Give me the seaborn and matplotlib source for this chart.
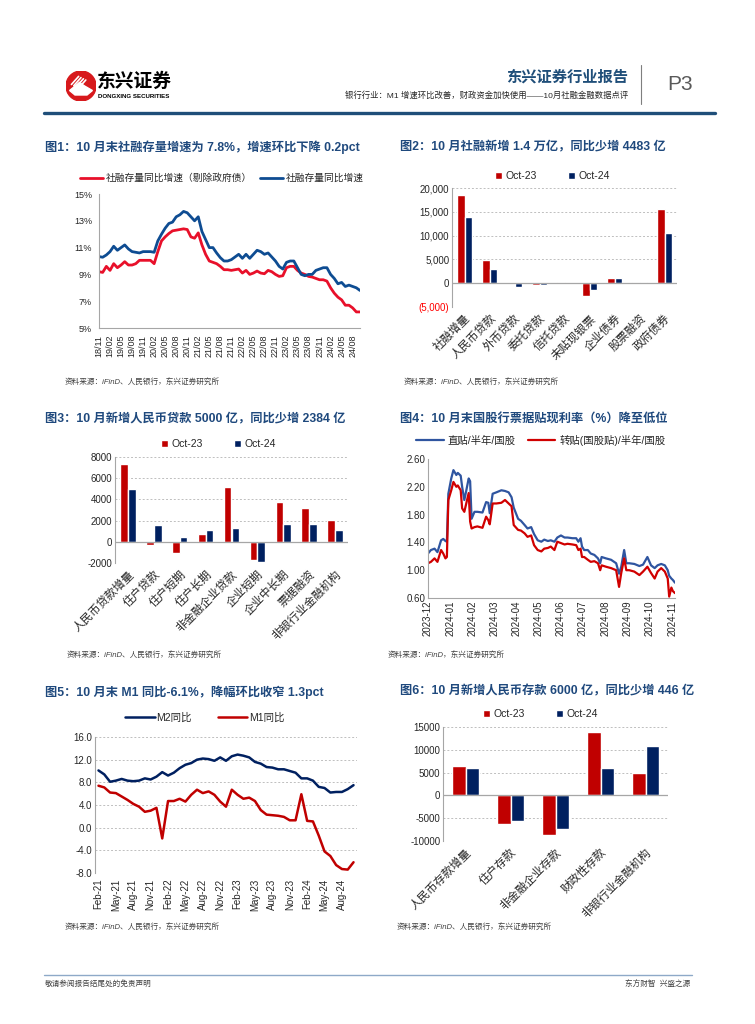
import numpy as np
import pandas as pd
import seaborn as sns
import matplotlib.pyplot as plt
from matplotlib.patches import Circle, Polygon
from matplotlib.lines import Line2D

sns.set_theme(style='white')
plt.rcParams['font.family'] = ['Liberation Sans', 'Noto Sans CJK SC', 'DejaVu Sans']
plt.rcParams['axes.unicode_minus'] = False

W, H = 755, 1024
RED = '#C00000'
NAVY = '#002060'
TITLE_BLUE = '#1F497D'
GRAY = '#A6A6A6'

# ---------- data ----------
# fig1: 社融存量同比增速, monthly 2018-11 .. 2024-10
afre_months = pd.period_range('2018-11', '2024-10', freq='M')
afre_total = [10.33, 10.28, 10.45, 10.7, 11.1, 10.8, 11.0, 11.2, 10.9, 10.7, 10.65, 10.6,
              10.7, 10.7, 10.7, 10.65, 11.5, 12.0, 12.45, 12.8, 12.9, 13.3, 13.45, 13.7,
              13.6, 13.3, 13.0, 13.3, 12.2, 11.6, 11.0, 11.0, 10.6, 10.25, 10.0, 10.0,
              10.1, 10.3, 10.5, 10.2, 10.5, 10.2, 10.5, 10.8, 10.7, 10.5, 10.6, 10.3,
              10.0, 9.6, 9.4, 9.9, 10.0, 10.0, 9.5, 9.0, 8.9, 9.0, 9.0, 9.3,
              9.4, 9.5, 9.5, 9.0, 8.7, 8.3, 8.4, 8.1, 8.2, 8.1, 8.0, 7.8]
afre_ex_gov = [9.2, 9.15, 9.6, 9.3, 9.8, 9.5, 9.7, 9.95, 9.7, 9.7, 9.8, 10.05,
               10.05, 10.05, 10.05, 9.8, 10.7, 11.5, 11.8, 12.05, 12.25, 12.3, 12.35, 12.4,
               12.35, 11.8, 11.7, 12.1, 11.2, 10.5, 10.0, 9.9, 9.8, 9.6, 9.35, 9.35,
               9.3, 9.35, 9.4, 9.1, 9.3, 9.0, 9.1, 9.25, 9.1, 9.05, 9.3, 9.2,
               9.0, 8.85, 8.9, 9.5, 9.6, 9.6, 9.3, 9.1, 9.0, 8.85, 8.8, 8.7,
               8.6, 8.6, 8.5, 8.0, 7.6, 7.3, 7.1, 6.7, 6.7, 6.5, 6.2, 6.2]

# fig2: 社融新增结构
afre_cats = ['社融增量', '人民币贷款', '外币贷款', '委托贷款', '信托贷款', '未贴现银票', '企业债券', '股票融资', '政府债券']
afre_oct23 = [18500, 4800, 100, -400, 300, -2600, 1100, 300, 15600]
afre_oct24 = [14000, 3000, -700, -300, 100, -1500, 1000, 300, 10500]

# fig3: 人民币贷款结构
loan_cats = ['人民币贷款增量', '住户贷款', '住户短期', '住户长期', '非金融企业贷款', '企业短期', '企业中长期', '票据融资', '非银行业金融机构']
loan_oct23 = [7384, -346, -1049, 703, 5159, -1764, 3800, 3170, 2100]
loan_oct24 = [5000, 1600, 460, 1100, 1300, -1900, 1700, 1700, 1100]

# fig4: 票据贴现利率
bill_dates = ['2023-12-01', '2023-12-05', '2023-12-10', '2023-12-14', '2023-12-19', '2023-12-22',
              '2023-12-25', '2023-12-27', '2023-12-29', '2024-01-02', '2024-01-05', '2024-01-09',
              '2024-01-11', '2024-01-15', '2024-01-17', '2024-01-20', '2024-01-22', '2024-01-26',
              '2024-01-28', '2024-01-30', '2024-02-03', '2024-02-07', '2024-02-14', '2024-02-19',
              '2024-02-22', '2024-02-24', '2024-02-28', '2024-03-04', '2024-03-11', '2024-03-16',
              '2024-03-21', '2024-03-25', '2024-03-28', '2024-04-03', '2024-04-07', '2024-04-12',
              '2024-04-16', '2024-04-21', '2024-04-25', '2024-04-30', '2024-05-05', '2024-05-09',
              '2024-05-14', '2024-05-18', '2024-05-23', '2024-05-27', '2024-06-01', '2024-06-06',
              '2024-06-10', '2024-06-17', '2024-06-22', '2024-06-25', '2024-06-28', '2024-06-30',
              '2024-07-03', '2024-07-08', '2024-07-12', '2024-07-17', '2024-07-22', '2024-07-25',
              '2024-07-27', '2024-08-02', '2024-08-09', '2024-08-16', '2024-08-20', '2024-08-23',
              '2024-08-27', '2024-08-30', '2024-09-03', '2024-09-10', '2024-09-17', '2024-09-22',
              '2024-09-28', '2024-10-03', '2024-10-08', '2024-10-12', '2024-10-17', '2024-10-22',
              '2024-10-26', '2024-10-28', '2024-10-31', '2024-11-02', '2024-11-05']
direct_rate = [1.24, 1.29, 1.31, 1.26, 1.43, 1.45, 1.42, 1.41, 2.10, 2.32, 2.44, 2.37,
               2.40, 2.36, 2.20, 2.01, 2.11, 2.32, 2.28, 1.74, 1.84, 1.84, 1.83, 1.98,
               1.97, 1.82, 2.10, 2.12, 2.15, 2.14, 2.12, 2.05, 1.90, 1.74, 1.71, 1.65,
               1.60, 1.62, 1.52, 1.43, 1.41, 1.44, 1.42, 1.43, 1.41, 1.47, 1.50, 1.47,
               1.47, 1.46, 1.46, 1.41, 1.46, 1.34, 1.29, 1.29, 1.24, 1.22, 1.17, 1.10,
               1.19, 1.17, 1.15, 1.10, 0.95, 1.05, 1.29, 1.10, 1.10, 1.09, 1.06, 1.08,
               1.19, 1.07, 1.03, 1.07, 1.09, 1.07, 1.00, 0.92, 0.88, 0.86, 0.82]
rediscount_rate = [1.10, 1.12, 1.17, 1.12, 1.29, 1.24, 1.17, 1.19, 2.01, 2.15, 2.27, 2.20,
                   2.22, 2.15, 1.89, 1.84, 1.93, 2.11, 1.70, 1.60, 1.62, 1.63, 1.61, 1.77,
                   1.72, 1.66, 1.96, 1.96, 1.97, 2.01, 1.96, 1.92, 1.65, 1.58, 1.57, 1.53,
                   1.48, 1.50, 1.36, 1.29, 1.27, 1.31, 1.32, 1.34, 1.29, 1.41, 1.39, 1.37,
                   1.38, 1.37, 1.36, 1.29, 1.31, 1.19, 1.19, 1.15, 1.12, 1.13, 1.10, 1.00,
                   1.07, 1.05, 1.03, 1.00, 0.76, 0.96, 1.17, 1.00, 1.00, 0.98, 0.93, 0.98,
                   1.05, 0.96, 0.88, 0.98, 1.03, 0.98, 0.88, 0.62, 0.75, 0.70, 0.67]
bill_ticks = ['2023-12', '2024-01', '2024-02', '2024-03', '2024-04', '2024-05', '2024-06',
              '2024-07', '2024-08', '2024-09', '2024-10', '2024-11']

# fig5: M1 / M2 同比, monthly 2021-02 .. 2024-10
m_months = pd.period_range('2021-02', '2024-10', freq='M')
m2_yoy = [10.1, 9.4, 8.1, 8.3, 8.6, 8.3, 8.2, 8.3, 8.7, 8.5, 9.0,
          9.8, 9.2, 9.7, 10.5, 11.1, 11.4, 12.0, 12.2, 12.1, 11.8, 12.4, 11.8,
          12.6, 12.9, 12.7, 12.4, 11.6, 11.3, 10.7, 10.6, 10.3, 10.3, 10.0, 9.7,
          8.7, 8.7, 8.3, 7.2, 7.0, 6.2, 6.3, 6.3, 6.8, 7.5]
m1_yoy = [7.4, 7.1, 6.2, 6.1, 5.5, 4.9, 4.2, 3.7, 2.8, 3.0, 3.5,
          -1.9, 4.7, 4.7, 5.1, 4.6, 5.8, 6.7, 6.1, 6.4, 5.8, 4.6, 3.7,
          6.7, 5.8, 5.1, 5.3, 4.7, 3.1, 2.3, 2.2, 2.1, 1.9, 1.3, 1.3,
          5.9, 1.2, 1.1, -1.4, -4.2, -5.0, -6.6, -7.3, -7.4, -6.1]

# fig6: 人民币存款结构
dep_cats = ['人民币存款增量', '住户存款', '非金融企业存款', '财政性存款', '非银行业金融机构']
dep_oct23 = [6400, -6300, -8600, 13800, 5000]
dep_oct24 = [6000, -5700, -7300, 5900, 10800]

# ---------- helpers ----------
fig = plt.figure(figsize=(W / 100, H / 100), dpi=100)
fig.patch.set_facecolor('white')


def px_axes(x0, y0, x1, y1):
    return fig.add_axes([x0 / W, 1 - y1 / H, (x1 - x0) / W, (y1 - y0) / H])


def ftext(x, y, s, **kw):
    kw.setdefault('va', 'center')
    fig.text(x / W, 1 - y / H, s, **kw)


def fline(xs, ys, **kw):
    fig.add_artist(Line2D([x / W for x in xs], [1 - y / H for y in ys], **kw))


def base_style(ax):
    for s in ['top', 'right']:
        ax.spines[s].set_visible(False)
    for s in ['left', 'bottom']:
        ax.spines[s].set_color(GRAY)
        ax.spines[s].set_linewidth(0.8)
    ax.tick_params(axis='both', labelsize=7, colors='#262626', length=0, pad=2)
    ax.set_xlabel('')
    ax.set_ylabel('')


def title(x, y, s):
    ftext(x, y, s, fontsize=8.8, fontweight='bold', color=TITLE_BLUE, ha='left')


def source(x, y, s):
    ftext(x, y, s, fontsize=5.5, style='italic', color='#404040', ha='left')


def bar_chart(ax, cats, v23, v24, ylim, yticks, labels):
    df = pd.DataFrame({'cat': cats * 2,
                       'period': ['Oct-23'] * len(cats) + ['Oct-24'] * len(cats),
                       'value': v23 + v24})
    sns.barplot(data=df, x='cat', y='value', hue='period', palette=[RED, NAVY],
                width=0.6, errorbar=None, ax=ax, saturation=1)
    base_style(ax)
    ax.spines['bottom'].set_visible(False)
    ax.set_ylim(*ylim)
    ax.set_xlim(-0.5, len(cats) - 0.5)
    ax.set_yticks(yticks)
    ax.set_yticklabels(labels)
    ax.yaxis.grid(True, linestyle=(0, (2, 2)), color='#BFBFBF', linewidth=0.7)
    ax.set_axisbelow(True)
    ax.axhline(0, color=GRAY, linewidth=0.9, zorder=1)
    ax.set_xticks(range(len(cats)))
    ax.set_xticklabels(cats, rotation=45, ha='right', rotation_mode='anchor', fontsize=8.3)
    ax.tick_params(axis='x', pad=4)
    ax.set_xlabel('')
    ax.set_ylabel('')


def bar_legend(ax, cx, cy):
    h, l = ax.get_legend_handles_labels()
    ax.legend(h, l, ncol=2, loc='center', bbox_to_anchor=(cx / W, 1 - cy / H),
              bbox_transform=fig.transFigure, frameon=False, fontsize=7.5,
              handlelength=0.7, handleheight=0.7, handletextpad=0.3, columnspacing=3.0)


# ---------- header ----------
logo = px_axes(66, 71, 96, 101)
logo.set_xlim(0, 1)
logo.set_ylim(0, 1)
logo.set_aspect('equal')
logo.axis('off')
logo.add_patch(Circle((0.5, 0.5), 0.5, color='#D7191C'))
logo.add_patch(Polygon([[0.12, 0.35], [0.45, 0.62], [0.62, 0.5], [0.88, 0.35], [0.7, 0.2], [0.3, 0.2]],
                       closed=True, color='white'))
for k in range(4):
    logo.plot([0.18 + 0.08 * k, 0.42 + 0.08 * k], [0.55 - 0.04 * k, 0.82 - 0.04 * k], color='white', lw=1.2)
ftext(97, 82, '东兴证券', fontsize=13.5, fontweight='bold', color='black', ha='left')
ftext(98, 97, 'DONGXING SECURITIES', fontsize=4.4, fontweight='bold', color='black', ha='left')
ftext(628, 77, '东兴证券行业报告', fontsize=11, fontweight='bold', color='#1F4E79', ha='right')
ftext(628, 96, '银行行业：M1 增速环比改善，财政资金加快使用——10月社融金融数据点评',
      fontsize=6, color='#262626', ha='right')
fline([641, 641], [65, 104], color='#7F7F7F', lw=0.8)
ftext(667, 85, 'P3', fontsize=15, color='#595959', ha='left')
fline([44, 715], [113, 113], color='#1F4E79', lw=2.4)

# ---------- fig1 ----------
title(45, 147, '图1：10 月末社融存量增速为 7.8%，增速环比下降 0.2pct')
ax1 = px_axes(99, 194, 360, 328)
x1 = np.arange(len(afre_months))
sns.lineplot(x=x1, y=afre_ex_gov, ax=ax1, color='#E8102A', linewidth=2.0, label='社融存量同比增速（剔除政府债）')
sns.lineplot(x=x1, y=afre_total, ax=ax1, color='#0E4C92', linewidth=2.0, label='社融存量同比增速')
base_style(ax1)
ax1.set_ylim(5, 15)
ax1.set_xlim(0, len(afre_months) - 1)
ax1.set_yticks([5, 7, 9, 11, 13, 15])
ax1.set_yticklabels([f'{v}%' for v in [5, 7, 9, 11, 13, 15]], fontsize=6.5)
ax1.set_xticks(x1[::3])
ax1.set_xticklabels([p.strftime('%y/%m') for p in afre_months[::3]], rotation=90, fontsize=6.5)
ax1.tick_params(axis='y', length=3, color=GRAY, direction='out')
ax1.tick_params(axis='x', length=3, color=GRAY, direction='out')
ax1.legend(ncol=2, loc='center', bbox_to_anchor=(222 / W, 1 - 178 / H), bbox_transform=fig.transFigure,
           frameon=False, fontsize=7, handlelength=2.4, handletextpad=0.3, columnspacing=0.8)
source(65, 382, '资料来源：iFinD、人民银行，东兴证券研究所')

# ---------- fig2 ----------
title(400, 147, '图2：10 月社融新增 1.4 万亿，同比少增 4483 亿')
ax2 = px_axes(452, 188, 677, 307)
t2 = [-5000, 0, 5000, 10000, 15000, 20000]
bar_chart(ax2, afre_cats, afre_oct23, afre_oct24, (-5000, 20000), t2,
          [f'{v:,.0f}' if v >= 0 else f'({-v:,.0f})' for v in t2])
for lbl, v in zip(ax2.get_yticklabels(), t2):
    if v < 0:
        lbl.set_color('red')
bar_legend(ax2, 552, 176)
source(404, 382, '资料来源：iFinD、人民银行，东兴证券研究所')

# ---------- fig3 ----------
title(45, 419, '图3：10 月新增人民币贷款 5000 亿，同比少增 2384 亿')
ax3 = px_axes(115, 457, 348, 563)
t3 = [-2000, 0, 2000, 4000, 6000, 8000]
bar_chart(ax3, loan_cats, loan_oct23, loan_oct24, (-2000, 8000), t3, [str(v) for v in t3])
bar_legend(ax3, 218, 444)
source(67, 655, '资料来源：iFinD、人民银行，东兴证券研究所')

# ---------- fig4 ----------
title(400, 419, '图4：10 月末国股行票据贴现利率（%）降至低位')
ax4 = px_axes(428, 459, 675, 598)
bd = pd.to_datetime(bill_dates)
sns.lineplot(x=bd, y=direct_rate, ax=ax4, color='#2F55A0', linewidth=1.6, label='直贴/半年/国股')
sns.lineplot(x=bd, y=rediscount_rate, ax=ax4, color='#D00000', linewidth=1.6, label='转贴(国股贴)/半年/国股')
base_style(ax4)
ax4.set_ylim(0.6, 2.6)
ax4.set_xlim(pd.Timestamp('2023-12-01'), pd.Timestamp('2024-11-05'))
yt4 = [0.6, 1.0, 1.4, 1.8, 2.2, 2.6]
ax4.set_yticks(yt4)
ax4.set_yticklabels([f'{v:.2f}' for v in yt4], fontsize=7)
ax4.set_xticks(pd.to_datetime(bill_ticks))
ax4.set_xticklabels(bill_ticks, rotation=90, fontsize=7)
ax4.legend(ncol=2, loc='center', bbox_to_anchor=(541 / W, 1 - 440 / H), bbox_transform=fig.transFigure,
           frameon=False, fontsize=7.5, handlelength=2.6, handletextpad=0.4, columnspacing=1.2)
source(388, 655, '资料来源：iFinD，东兴证券研究所')

# ---------- fig5 ----------
title(45, 692, '图5：10 月末 M1 同比-6.1%，降幅环比收窄 1.3pct')
ax5 = px_axes(95, 737, 357, 873)
x5 = np.arange(len(m_months))
sns.lineplot(x=x5, y=m2_yoy, ax=ax5, color=NAVY, linewidth=1.8, label='M2同比')
sns.lineplot(x=x5, y=m1_yoy, ax=ax5, color=RED, linewidth=1.8, label='M1同比')
base_style(ax5)
ax5.spines['bottom'].set_visible(False)
ax5.set_ylim(-8, 16)
ax5.set_xlim(-0.6, len(m_months) - 0.4)
yt5 = [-8, -4, 0, 4, 8, 12, 16]
ax5.set_yticks(yt5)
ax5.set_yticklabels([f'{v:.1f}' for v in yt5], fontsize=7)
ax5.yaxis.grid(True, linestyle=(0, (2, 2)), color='#BFBFBF', linewidth=0.7)
ax5.set_xticks(x5[::3])
ax5.set_xticklabels([p.strftime('%b-%y') for p in m_months[::3]], rotation=90, fontsize=7)
ax5.tick_params(axis='x', pad=4)
ax5.legend(ncol=2, loc='center', bbox_to_anchor=(205 / W, 1 - 718 / H), bbox_transform=fig.transFigure,
           frameon=False, fontsize=7.5, handlelength=2.8, handletextpad=0.2, columnspacing=2.5)
source(65, 927, '资料来源：iFinD、人民银行，东兴证券研究所')

# ---------- fig6 ----------
title(400, 691, '图6：10 月新增人民币存款 6000 亿，同比少增 446 亿')
ax6 = px_axes(443, 727, 668, 841)
t6 = [-10000, -5000, 0, 5000, 10000, 15000]
bar_chart(ax6, dep_cats, dep_oct23, dep_oct24, (-10000, 15000), t6, [str(v) for v in t6])
bar_legend(ax6, 540, 714)
source(397, 927, '资料来源：iFinD、人民银行，东兴证券研究所')

# ---------- footer ----------
fline([44, 692], [975, 975], color='#8EA9C8', lw=1.0)
ftext(45, 984, '敬请参阅报告结尾处的免责声明', fontsize=5.5, color='#404040', ha='left')
ftext(690, 984, '东方财智  兴盛之源', fontsize=5.5, color='#404040', ha='right')

fig.savefig('out.png', dpi=100, facecolor='white')
